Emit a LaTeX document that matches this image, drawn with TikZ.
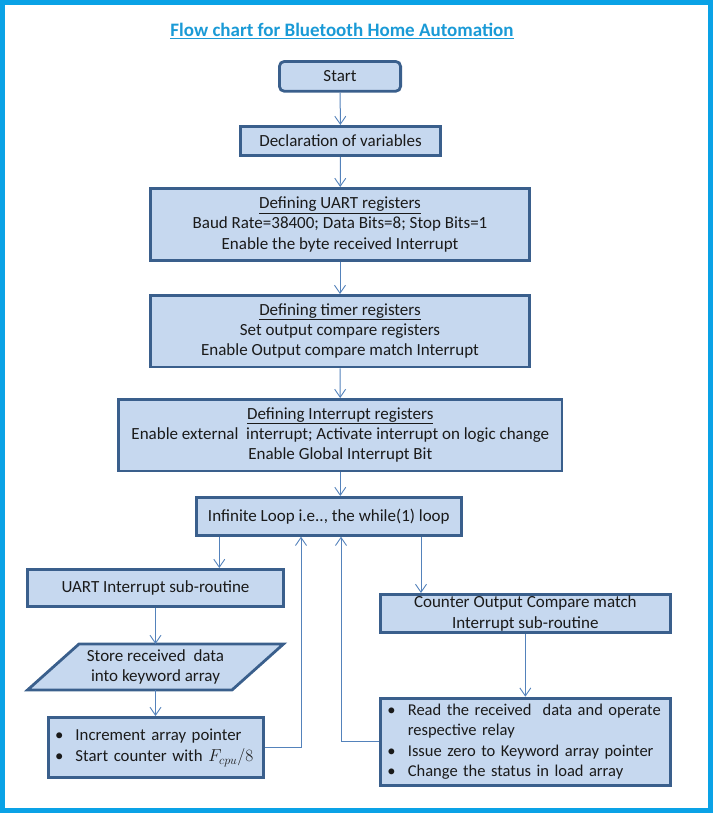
\documentclass[tikz,border=0pt]{standalone}
\usepackage{fontspec}
\setmainfont{Carlito}
\usetikzlibrary{arrows.meta,backgrounds}
\definecolor{boxfill}{HTML}{C6D8EF}
\definecolor{boxline}{HTML}{3A5F8C}
\definecolor{connc}{HTML}{5482BB}
\definecolor{framec}{HTML}{0AA2E6}
\definecolor{titlec}{HTML}{1A9AD6}
\definecolor{textc}{HTML}{1A1A1A}
\newcommand{\bul}{\makebox[19.5pt][l]{\hspace*{-1pt}\textbullet}}
\begin{document}
\begin{tikzpicture}[x=1pt,y=-1pt,
  box/.style={draw=boxline, fill=boxfill, line width=2.8pt, align=center,
    inner sep=0pt, font=\fontsize{17}{20.3}\selectfont, text=textc},
  conn/.style={draw=connc, line width=1pt,
    -{Straight Barb[length=8pt,width=11pt,line width=0.9pt]}}
]
\useasboundingbox (0,0) rectangle (713,815);
\draw[framec, line width=5pt] (2.5,2.5) rectangle (710.5,810.5);

\node[font=\bfseries\fontsize{19}{22}\selectfont, text=titlec] (title) at (342,31)
  {\underline{Flow chart for Bluetooth Home Automation}};

\node[box, rounded corners=5pt, minimum width=121.2, minimum height=29.9] (start) at (340,76.35) {Start};
\node[box, minimum width=200.2, minimum height=29.2] (decl) at (340.5,141) {Declaration of variables};
\node[box, minimum width=378.6, minimum height=71.9] (uart) at (340,224.35)
  {\underline{Defining UART registers}\\Baud Rate=38400; Data Bits=8; Stop Bits=1\\Enable the byte received Interrupt};
\node[box, minimum width=378.6, minimum height=71.5] (timer) at (340,331.15)
  {\underline{Defining timer registers}\\Set output compare registers\\Enable Output compare match Interrupt};
\node[box, minimum width=443.2, minimum height=71.5] (intr) at (340.3,435.15)
  {\underline{Defining Interrupt registers}\\Enable external\ \ interrupt; Activate interrupt on logic change\\Enable Global Interrupt Bit};
\node[box, minimum width=264.9, minimum height=37.9] (loop) at (328.85,516.35) {Infinite Loop i.e.., the while(1) loop};
\node[box, minimum width=256.2, minimum height=37.2] (uartint) at (155.5,588) {UART Interrupt sub-routine};
\node[box, draw=none, fill=none, minimum width=150, minimum height=43.2] (store) at (155.5,667)
  {Store received\ \ data\\into keyword array};
\begin{scope}[on background layer]
\draw[draw=boxline, fill=boxfill, line width=2.8pt]
  ([xshift=-76.5pt]store.north) -- ([xshift=128pt]store.north) --
  ([xshift=76.5pt]store.south) -- ([xshift=-128pt]store.south) -- cycle;
\end{scope}
\node[box, font=\fontsize{16.8}{20.3}\selectfont, minimum width=215.5, minimum height=60.2, text width=199.7, inner xsep=7.9pt, align=left] (incr) at (155.85,747.5)
  {\mbox{\bul Increment array pointer}\\[1.2pt]\mbox{\bul Start counter with $F_{cpu}/8$}};
\node[box, minimum width=289.9, minimum height=38.2] (counter) at (525.35,613.5)
  {Counter Output Compare match\\Interrupt sub-routine};
\node[box, font=\fontsize{16.5}{20.3}\selectfont, minimum width=289.9, minimum height=87.2, text width=274, inner xsep=8pt, align=left] (read) at (525.35,741.7)
  {\mbox{\bul Read the received\ \ data and operate}\\\mbox{\hspace*{19.5pt}respective relay}\\\mbox{\bul Issue zero to Keyword array pointer}\\\mbox{\bul Change the status in load array}};

\coordinate (xa) at (219.3,0);
\coordinate (xb) at (301,0);
\coordinate (xc) at (421,0);
\coordinate (xd) at (341,0);

\draw[conn] (start) -- (decl);
\draw[conn] (decl) -- (uart);
\draw[conn] (uart) -- (timer);
\draw[conn] (timer) -- (intr);
\draw[conn] (intr.south) -- (intr.south |- loop.north);
\draw[conn] (xa |- loop.south) -- (xa |- uartint.north);
\draw[conn] (uartint.south) -- (store.north);
\draw[conn] (store.south) -- (store.south |- incr.north);
\draw[conn] (incr.east) -| (xb |- loop.south);
\draw[conn] (xc |- loop.south) -- (xc |- counter.north);
\draw[conn] (counter.south) -- (read.north);
\draw[conn] (read.west) -| (xd |- loop.south);
\end{tikzpicture}
\end{document}
